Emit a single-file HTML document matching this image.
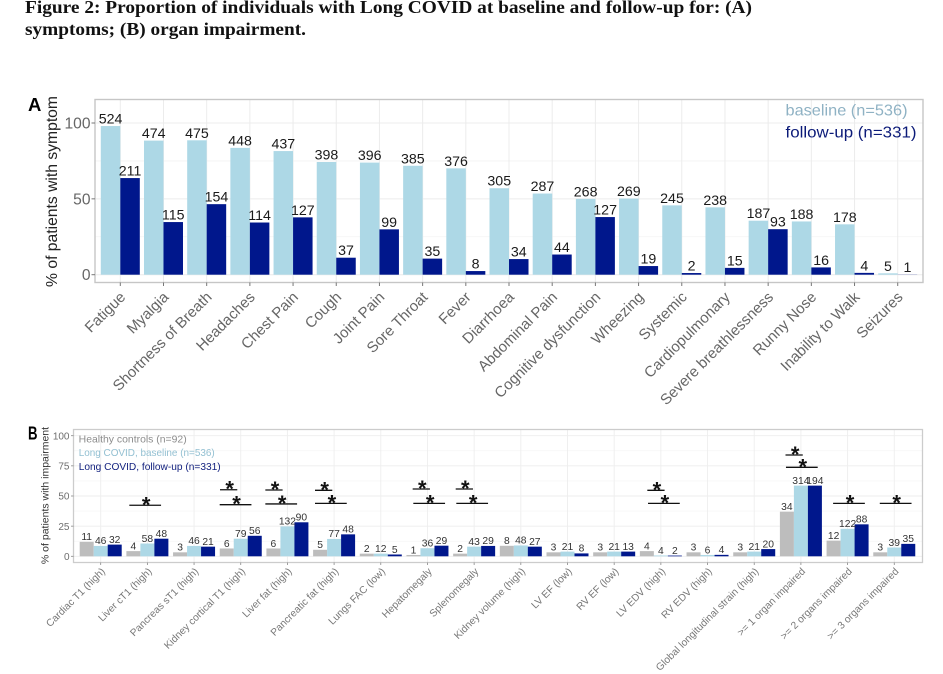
<!DOCTYPE html>
<html lang="en">
<head>
<meta charset="utf-8">
<title>Figure 2: Long COVID symptoms and organ impairment</title>
<style>
html,body{margin:0;padding:0;background:#fff;width:943px;height:674px;overflow:hidden}
svg{display:block;font-family:"Liberation Sans",Arial,sans-serif;filter:blur(0.3px)}
</style>
</head>
<body>
<svg id="fig" width="943" height="674" viewBox="0 0 943 674" xmlns="http://www.w3.org/2000/svg">
  <g font-family="'Liberation Serif',serif" font-weight="bold" font-size="17.5" fill="#111">
    <text x="25" y="13" textLength="727" lengthAdjust="spacingAndGlyphs">Figure 2: Proportion of individuals with Long COVID at baseline and follow-up for: (A)</text>
    <text x="25" y="35" textLength="281" lengthAdjust="spacingAndGlyphs">symptoms; (B) organ impairment.</text>
  </g>
  <text x="28" y="111" font-size="18.5" font-weight="bold" fill="#000">A</text>
  <text x="28" y="439.5" font-size="18" font-weight="bold" fill="#000" textLength="9.5" lengthAdjust="spacingAndGlyphs">B</text>
  <g id="chartA"></g>
  <g id="chartB"></g>
  <g font-size="16">
    <text x="785.5" y="115.5" fill="#8fb2c4" textLength="122" lengthAdjust="spacingAndGlyphs">baseline (n=536)</text>
    <text x="785.5" y="137.5" fill="#0b1a78" textLength="131" lengthAdjust="spacingAndGlyphs">follow-up (n=331)</text>
  </g>
  <g font-size="10.4">
    <text x="78.7" y="442.5" fill="#8c8c8c" textLength="108" lengthAdjust="spacingAndGlyphs">Healthy controls (n=92)</text>
    <text x="78.7" y="456" fill="#93c0d2" textLength="136" lengthAdjust="spacingAndGlyphs">Long COVID, baseline (n=536)</text>
    <text x="78.7" y="470" fill="#101f7e" textLength="142" lengthAdjust="spacingAndGlyphs">Long COVID, follow-up (n=331)</text>
  </g>
</svg>
<script>
// Panel A data
const symptomCategories = ["Fatigue","Myalgia","Shortness of Breath","Headaches","Chest Pain","Cough","Joint Pain","Sore Throat","Fever","Diarrhoea","Abdominal Pain","Cognitive dysfunction","Wheezing","Systemic","Cardiopulmonary","Severe breathlessness","Runny Nose","Inability to Walk","Seizures"];
const symptomBaselinePct = [98,88.4,88.6,83.6,81.5,74.3,73.9,71.8,70.1,57,53.5,50,50.2,45.7,44.4,35.6,35.1,33.2,0.9];
const symptomFollowupPct = [63.7,34.7,46.5,34.4,37.8,11.2,29.9,10.6,2.4,10.3,13.3,38,5.7,1.1,4.5,30,4.8,1.2,0.1];
const symptomBaselineCounts = [524,474,475,448,437,398,396,385,376,305,287,268,269,245,238,187,188,178,5];
const symptomFollowupCounts = [211,115,154,114,127,37,99,35,8,34,44,127,19,2,15,93,16,4,1];
const symptomYTicks = [0,50,100];
const symptomYMinor = [25,75];

// Panel B data
const organCategories = ["Cardiac T1 (high)","Liver cT1 (high)","Pancreas sT1 (high)","Kidney cortical T1 (high)","Liver fat (high)","Pancreatic fat (high)","Lungs FAC (low)","Hepatomegaly","Splenomegaly","Kidney volume (high)","LV EF (low)","RV EF (low)","LV EDV (high)","RV EDV (high)","Global longitudinal strain (high)",">= 1 organ impaired",">= 2 organs impaired",">= 3 organs impaired"];
const organHealthyPct = [12,4.3,3.3,6.5,6.5,5.4,2.2,1.1,2.2,8.7,3.3,3.3,4.3,3.3,3.3,37,13,3.3];
const organBaselinePct = [8.6,10.6,8.6,14.6,24.8,14.4,2.2,6.7,8,9,3.9,3.9,0.7,1.1,3.9,58.6,22.8,7.3];
const organFollowupPct = [9.7,14.6,8,17,28.2,18.2,1.5,8.8,8.6,8,2.4,3.9,0.6,1.2,6,58.6,26.5,10.3];
const organHealthyCounts = [11,4,3,6,6,5,2,1,2,8,3,3,4,3,3,34,12,3];
const organBaselineCounts = [46,58,46,79,132,77,12,36,43,48,21,21,4,6,21,314,122,39];
const organFollowupCounts = [32,48,21,56,90,48,5,29,29,27,8,13,2,4,20,194,88,35];
const organYTicks = [0,25,50,75,100];
const organYMinor = [12.5,37.5,62.5,87.5];

// Significance brackets: start in category units, level in percent, span in category units
const sigStart = [0.613,2.556,2.549,3.527,3.527,4.591,4.591,6.683,6.697,7.605,7.618,11.71,11.725,14.67,14.68,15.69,16.69];
const sigLevel = [42.3,55.2,42.8,55,43.4,54.7,43.9,55.8,43.9,55.8,43.9,54.7,43.9,84,73.8,43.9,43.9];
const sigSpan = [0.68,0.37,0.68,0.37,0.68,0.37,0.68,0.37,0.68,0.37,0.68,0.37,0.68,0.37,0.68,0.68,0.68];

const NS = "http://www.w3.org/2000/svg";
function mk(parent, tag, attrs, txt){
  const el = document.createElementNS(NS, tag);
  for (const k in attrs) el.setAttribute(k, attrs[k]);
  if (txt !== undefined) el.textContent = txt;
  parent.appendChild(el);
  return el;
}
const LIGHT = "#add8e6", DARK = "#00178c", GREY = "#bdbdbd";

// ---------- Panel A ----------
(function(){
  const g = document.getElementById("chartA");
  const L = 95, R = 923, T = 99.5, B = 282.5;
  const yA = v => 274.7 - v * 1.517;
  const xA = i => 120.3 + i * 43.19;
  const bw = 19.5;

  symptomYMinor.forEach(v => {
    const el = mk(g, "line", {x1:L, x2:R, y1:yA(v), y2:yA(v), stroke:"#f3f3f3", "stroke-width":0.8});
    
    
  });
  symptomYTicks.forEach(v => {
    const el = mk(g, "line", {x1:L, x2:R, y1:yA(v), y2:yA(v), stroke:"#ececec", "stroke-width":1});
    
    
  });
  symptomCategories.forEach((c, i) => {
    const el = mk(g, "line", {x1:xA(i), x2:xA(i), y1:T, y2:B, stroke:"#ececec", "stroke-width":1});
    
    
  });

  symptomCategories.forEach((c, i) => {
    const b1 = mk(g, "rect", {x:xA(i)-bw, y:yA(symptomBaselinePct[i]), width:bw, height:yA(0)-yA(symptomBaselinePct[i]), fill:LIGHT});
    
    
    const b2 = mk(g, "rect", {x:xA(i), y:yA(symptomFollowupPct[i]), width:bw, height:yA(0)-yA(symptomFollowupPct[i]), fill:DARK});
    
    
  });

  const frame = mk(g, "rect", {x:L, y:T, width:R-L, height:B-T, fill:"none", stroke:"#c6c6c6", "stroke-width":1.4});
  
  

  symptomCategories.forEach((c, i) => {
    const l1 = mk(g, "text", {x:xA(i)-bw/2, y:yA(symptomBaselinePct[i])-2.5, "text-anchor":"middle", "font-size":14.2, fill:"#1a1a1a"}, symptomBaselineCounts[i]);
    
    
    const l2 = mk(g, "text", {x:xA(i)+bw/2, y:yA(symptomFollowupPct[i])-2.5, "text-anchor":"middle", "font-size":14.2, fill:"#1a1a1a"}, symptomFollowupCounts[i]);
    
    
    const t = mk(g, "line", {x1:xA(i), x2:xA(i), y1:B, y2:B+3.5, stroke:"#777", "stroke-width":1});
    
    
    const px = xA(i) + 6, py = 298;
    const lab = mk(g, "text", {x:px, y:py, "text-anchor":"end", "font-size":15, fill:"#666", transform:`rotate(-45 ${px} ${py})`}, c);
    
    
  });

  symptomYTicks.forEach(v => {
    const t = mk(g, "line", {x1:L-3.5, x2:L, y1:yA(v), y2:yA(v), stroke:"#777", "stroke-width":1});
    
    
    const lab = mk(g, "text", {x:90.5, y:yA(v)+5.5, "text-anchor":"end", "font-size":15.6, fill:"#666"}, v);
    
    
  });
  const yt = mk(g, "text", {x:0, y:0, "text-anchor":"middle", "font-size":15.7, fill:"#222", transform:"translate(57 191.5) rotate(-90)"}, "% of patients with symptom");
  
  
})();

// ---------- Panel B ----------
(function(){
  const g = document.getElementById("chartB");
  const L = 73.5, R = 922.5, T = 429.5, B = 562.5;
  const yB = v => 556.3 - v * 1.206;
  const xB = c => 100.7 + c * 46.68;
  const bw = 14;

  organYMinor.forEach(v => {
    const el = mk(g, "line", {x1:L, x2:R, y1:yB(v), y2:yB(v), stroke:"#f5f5f5", "stroke-width":0.7});
    
    
  });
  organYTicks.forEach(v => {
    const el = mk(g, "line", {x1:L, x2:R, y1:yB(v), y2:yB(v), stroke:"#eeeeee", "stroke-width":0.9});
    
    
  });
  organCategories.forEach((c, i) => {
    const el = mk(g, "line", {x1:xB(i), x2:xB(i), y1:T, y2:B, stroke:"#eeeeee", "stroke-width":0.9});
    
    
  });

  organCategories.forEach((c, i) => {
    const b0 = mk(g, "rect", {x:xB(i)-1.5*bw, y:yB(organHealthyPct[i]), width:bw, height:yB(0)-yB(organHealthyPct[i]), fill:GREY});
    
    
    const b1 = mk(g, "rect", {x:xB(i)-0.5*bw, y:yB(organBaselinePct[i]), width:bw, height:yB(0)-yB(organBaselinePct[i]), fill:LIGHT});
    
    
    const b2 = mk(g, "rect", {x:xB(i)+0.5*bw, y:yB(organFollowupPct[i]), width:bw, height:yB(0)-yB(organFollowupPct[i]), fill:DARK});
    
    
  });

  const frame = mk(g, "rect", {x:L, y:T, width:R-L, height:B-T, fill:"none", stroke:"#cccccc", "stroke-width":1.3});
  
  

  organCategories.forEach((c, i) => {
    const l0 = mk(g, "text", {x:xB(i)-bw, y:yB(organHealthyPct[i])-1.7, "text-anchor":"middle", "font-size":10.3, fill:"#333"}, organHealthyCounts[i]);
    
    
    const l1 = mk(g, "text", {x:xB(i), y:yB(organBaselinePct[i])-1.7, "text-anchor":"middle", "font-size":10.3, fill:"#333"}, organBaselineCounts[i]);
    
    
    const l2 = mk(g, "text", {x:xB(i)+bw, y:yB(organFollowupPct[i])-1.7, "text-anchor":"middle", "font-size":10.3, fill:"#333"}, organFollowupCounts[i]);
    
    
    const t = mk(g, "line", {x1:xB(i), x2:xB(i), y1:B, y2:B+2.5, stroke:"#888", "stroke-width":0.8});
    
    
    const px = xB(i) + 5, py = 572;
    const lab = mk(g, "text", {x:px, y:py, "text-anchor":"end", "font-size":10.2, fill:"#777", transform:`rotate(-45 ${px} ${py})`}, c);
    
    
  });

  organYTicks.forEach(v => {
    const t = mk(g, "line", {x1:L-2.5, x2:L, y1:yB(v), y2:yB(v), stroke:"#888", "stroke-width":0.8});
    
    
    const lab = mk(g, "text", {x:69.5, y:yB(v)+3.6, "text-anchor":"end", "font-size":10, fill:"#6e6e6e"}, v);
    
    
  });
  const yt = mk(g, "text", {x:0, y:0, "text-anchor":"middle", "font-size":10.5, fill:"#333", transform:"translate(48.5 495.5) rotate(-90)"}, "% of patients with impairment");
  
  

  sigStart.forEach((s, i) => {
    const x1 = xB(s), x2 = xB(s + sigSpan[i]), y = yB(sigLevel[i]);
    const ln = mk(g, "line", {x1:x1, x2:x2, y1:y, y2:y, stroke:"#111", "stroke-width":1.3});
    
    
    const st = mk(g, "text", {x:(x1+x2)/2+1, y:y+7, "text-anchor":"middle", "font-size":22, "font-weight":"bold", fill:"#111"}, "*");
    
    
  });
})();
</script>
</body>
</html>
